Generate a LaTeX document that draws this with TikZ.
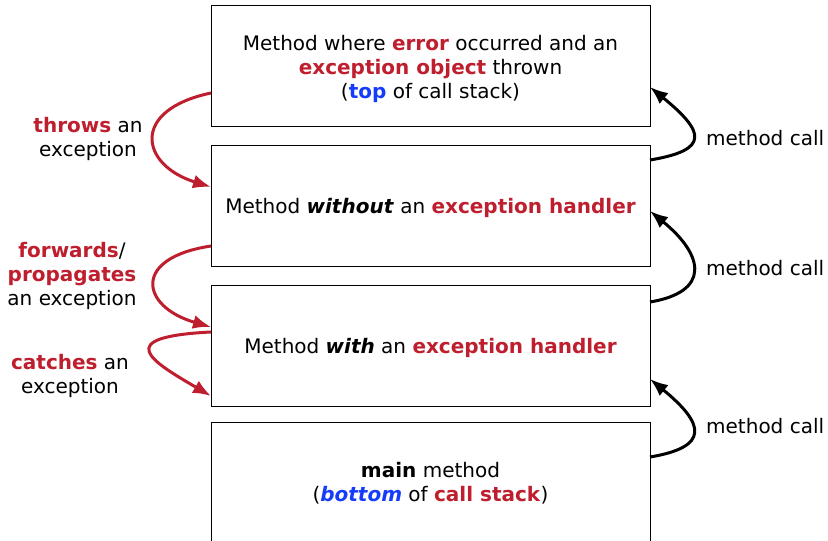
\documentclass[tikz,border=0pt]{standalone}
\usepackage{fontspec}
\setmainfont{DejaVu Sans}
\usepackage{xcolor}
\usetikzlibrary{positioning,calc,arrows.meta}
\definecolor{exred}{RGB}{190,30,45}
\definecolor{exblue}{RGB}{20,60,250}
\newcommand{\rd}[1]{\textcolor{exred}{\textbf{#1}}}
\tikzstyle{frame} = [rectangle, draw=black, line width=1pt, minimum width=439pt, minimum height=121pt, align=center, inner sep=0pt, outer sep=0pt]
\tikzstyle{flow} = [exred, line width=3pt, -{Latex[length=18pt,width=14pt]}]
\tikzstyle{call} = [black, line width=3pt, -{Latex[length=18pt,width=14pt]}]
\tikzstyle{note} = [align=center, inner sep=0pt]

\begin{document}
\begin{tikzpicture}[x=1pt, y=1pt, font=\fontsize{20}{24}\selectfont, node distance=19pt]
    \clip (0,0) rectangle (828,-541);
    % Stack frames
    \node[frame] (top) at (430.5,-65.5) {\rule{0pt}{22pt}Method where \rd{error} occurred and an\\ \rd{exception object} thrown\\ (\textcolor{exblue}{\textbf{top}} of call stack)};
    \node[frame, below=of top] (nohandler) {\rule{0pt}{19.5pt}Method \textbf{\textit{without}} an \rd{exception handler}};
    \node[frame, below=of nohandler] (handler) {\rule{0pt}{19.5pt}Method \textbf{\textit{with}} an \rd{exception handler}};
    \node[frame, below=16pt of handler] (main) {\rule{0pt}{17pt}\textbf{main} method\\ (\textcolor{exblue}{\textbf{\textit{bottom}}} of \rd{call stack})};

    % Labels
    \node[note] (throws) at (88,-139) {\rd{throws} an\\ exception};
    \node[note] (forwards) at (72,-276) {\rd{forwards}/\\ \rd{propagates}\\ an exception};
    \node[note] (catches) at (70,-376) {\rd{catches} an\\ exception};
    \node[note, anchor=west] (call1) at (706,-138) {method call};
    \node[note, anchor=west] (call2) at (706,-268) {method call};
    \node[note, anchor=west] (call3) at (706,-426) {method call};

    % Exception path
    \draw[flow] ([yshift=33pt]top.south west) .. controls +(-81,-17) and +(-71,22) .. ([yshift=-42pt]nohandler.north west);
    \draw[flow] ([yshift=20pt]nohandler.south west) .. controls +(-80,-12) and +(-70,20) .. ([yshift=-42pt]handler.north west);
    \draw[flow] ([yshift=-47pt]handler.north west) .. controls +(-100,-5) and +(-60,35) .. ([yshift=10pt]handler.south west);

    % Method calls
    \draw[call] ([yshift=-15pt]nohandler.north east) .. controls +(60,10) and +(55,-45) .. ([yshift=39pt]top.south east);
    \draw[call] ([yshift=-17pt]handler.north east) .. controls +(60,10) and +(55,-45) .. ([yshift=55pt]nohandler.south east);
    \draw[call] ([yshift=-35pt]main.north east) .. controls +(60,10) and +(55,-45) .. ([yshift=27pt]handler.south east);
\end{tikzpicture}
\end{document}
